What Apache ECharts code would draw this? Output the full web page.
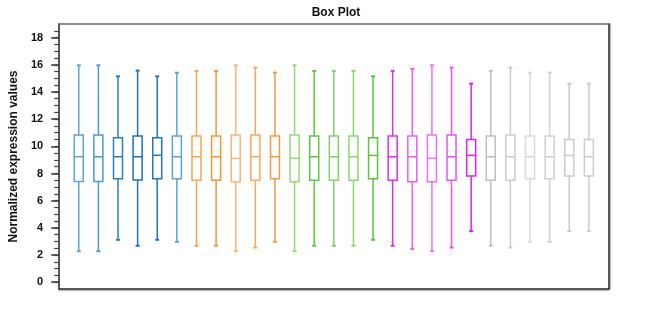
<!DOCTYPE html>
<html>
<head>
<meta charset="utf-8">
<script src="https://cdn.jsdelivr.net/npm/echarts@6/dist/echarts.min.js"></script>
<style>
  html, body { margin: 0; padding: 0; background: #ffffff; }
  #chart { width: 670px; height: 312px; }
</style>
</head>
<body>
<div id="chart"></div>
<script>
// Sample labels (not printed on the axis)
const samples = [
  'S01','S02','S03','S04','S05','S06',
  'S07','S08','S09','S10','S11',
  'S12','S13','S14','S15','S16',
  'S17','S18','S19','S20','S21',
  'S22','S23','S24','S25','S26','S27'
];

// Five-number summaries of the normalized expression values per sample
const whiskerHigh = [
  15.96, 15.96, 15.15, 15.57, 15.15, 15.42,
  15.55, 15.55, 15.96, 15.79, 15.42,
  15.96, 15.55, 15.55, 15.55, 15.15,
  15.55, 15.69, 15.96, 15.79, 14.61,
  15.55, 15.79, 15.42, 15.42, 14.61, 14.61
];
const upperQuartile = [
  10.83, 10.83, 10.63, 10.75, 10.63, 10.75,
  10.75, 10.75, 10.83, 10.83, 10.75,
  10.83, 10.75, 10.75, 10.75, 10.63,
  10.75, 10.75, 10.83, 10.83, 10.51,
  10.75, 10.83, 10.75, 10.75, 10.51, 10.51
];
const median = [
  9.23, 9.23, 9.23, 9.23, 9.34, 9.23,
  9.23, 9.23, 9.11, 9.23, 9.23,
  9.11, 9.23, 9.23, 9.23, 9.33,
  9.23, 9.23, 9.11, 9.23, 9.33,
  9.23, 9.23, 9.23, 9.23, 9.33, 9.23
];
const lowerQuartile = [
  7.41, 7.41, 7.62, 7.52, 7.62, 7.62,
  7.51, 7.51, 7.39, 7.51, 7.61,
  7.39, 7.51, 7.51, 7.51, 7.61,
  7.51, 7.39, 7.39, 7.51, 7.81,
  7.51, 7.51, 7.61, 7.61, 7.81, 7.81
];
const whiskerLow = [
  2.28, 2.28, 3.12, 2.68, 3.12, 2.97,
  2.68, 2.68, 2.28, 2.55, 2.97,
  2.28, 2.68, 2.68, 2.68, 3.12,
  2.68, 2.45, 2.28, 2.55, 3.76,
  2.68, 2.55, 2.97, 2.97, 3.76, 3.76
];

// Y axis tick positions
const majorTicks = [0, 2, 4, 6, 8, 10, 12, 14, 16, 18];
const minorTicks = [
  0, 0.5, 1, 1.5, 2, 2.5, 3, 3.5, 4, 4.5, 5, 5.5, 6, 6.5, 7, 7.5, 8, 8.5, 9, 9.5,
  10, 10.5, 11, 11.5, 12, 12.5, 13, 13.5, 14, 14.5, 15, 15.5, 16, 16.5, 17, 17.5, 18, 18.5
];

// Stroke colour of each box (five sample groups)
const boxColors = [
  '#5aa4d8', '#4b9ad3', '#2a7fc0', '#1a73b8', '#2178bc', '#5aa4d8',
  '#f9a550', '#f7953a', '#fbb575', '#f9a75a', '#f89a45',
  '#93da76', '#5cc63c', '#80d262', '#8ad86c', '#5ac43a',
  '#dd30ee', '#e860f3', '#ee70f6', '#e555f2', '#da20ec',
  '#c0c0c0', '#cbcbcb', '#d8d8d8', '#d0d0d0', '#cacaca', '#cccccc'
];

const boxData = samples.map((name, i) => [
  i, whiskerLow[i], lowerQuartile[i], median[i], upperQuartile[i], whiskerHigh[i]
]);

const BOX_HALF = 4.5;   // half box width, px
const CAP_HALF = 2;     // half whisker cap width, px

function renderBox(params, api) {
  const x = api.value(0);
  const pLow = api.coord([x, api.value(1)]);
  const pQ1 = api.coord([x, api.value(2)]);
  const pMed = api.coord([x, api.value(3)]);
  const pQ3 = api.coord([x, api.value(4)]);
  const pHigh = api.coord([x, api.value(5)]);
  const cx = pQ1[0];
  const color = boxColors[params.dataIndex];
  const line = { stroke: color, lineWidth: 1.5, fill: null };
  const cap = { stroke: color, lineWidth: 2 };
  return {
    type: 'group',
    children: [
      { type: 'line', shape: { x1: cx, y1: pQ3[1], x2: cx, y2: pHigh[1] }, style: line },
      { type: 'line', shape: { x1: cx, y1: pQ1[1], x2: cx, y2: pLow[1] }, style: line },
      { type: 'line', shape: { x1: cx - CAP_HALF, y1: pHigh[1], x2: cx + CAP_HALF, y2: pHigh[1] }, style: cap },
      { type: 'line', shape: { x1: cx - CAP_HALF, y1: pLow[1], x2: cx + CAP_HALF, y2: pLow[1] }, style: cap },
      {
        type: 'rect',
        shape: { x: cx - BOX_HALF, y: pQ3[1], width: BOX_HALF * 2, height: pQ1[1] - pQ3[1] },
        style: { stroke: color, lineWidth: 1.5, fill: '#ffffff' }
      },
      { type: 'line', shape: { x1: cx - BOX_HALF, y1: pMed[1], x2: cx + BOX_HALF, y2: pMed[1] }, style: line }
    ]
  };
}

const textFont = 'Liberation Sans, Arial, Helvetica, sans-serif';
const chart = echarts.init(document.getElementById('chart'), null, { renderer: 'canvas' });

chart.setOption({
  animation: false,
  backgroundColor: '#ffffff',
  title: {
    text: 'Box Plot',
    left: 331,
    top: 2,
    textAlign: 'center',
    textStyle: { fontFamily: textFont, fontSize: 12, fontWeight: 'bold', color: '#111111' }
  },
  grid: {
    left: 53.5,
    right: 61.5,
    top: 24,
    bottom: 23,
    show: false
  },
  xAxis: [
    {
      type: 'value',
      min: -1,
      max: 27,
      position: 'bottom',
      axisLine: {
        show: true, onZero: false,
        lineStyle: { color: '#222222', width: 1.5, shadowColor: '#bdbdbd', shadowOffsetY: 1.5 }
      },
      axisTick: { show: false },
      axisLabel: { show: false },
      splitLine: { show: false }
    },
    {
      type: 'value',
      min: -1,
      max: 27,
      position: 'top',
      axisLine: { show: true, onZero: false, lineStyle: { color: '#6a6a6a', width: 1.5 } },
      axisTick: { show: false },
      axisLabel: { show: false },
      splitLine: { show: false }
    }
  ],
  yAxis: [
    {
      type: 'value',
      min: -0.5,
      max: 19,
      position: 'left',
      name: 'Normalized expression values',
      nameLocation: 'middle',
      nameGap: 39,
      nameTextStyle: { fontFamily: textFont, fontSize: 12, fontWeight: 'bold', color: '#111111' },
      axisLine: { show: true, onZero: false, lineStyle: { color: '#222222', width: 1.5 } },
      axisTick: { show: true, length: 8, customValues: majorTicks, lineStyle: { color: '#333333', width: 1.5 } },
      axisLabel: {
        show: true, customValues: majorTicks, margin: 16,
        fontFamily: textFont, fontSize: 11, fontWeight: 'bold', color: '#111111'
      },
      splitLine: { show: false }
    },
    {
      type: 'value',
      min: -0.5,
      max: 19,
      position: 'left',
      offset: 0,
      axisLine: { show: false, onZero: false },
      axisTick: { show: true, length: 5, customValues: minorTicks, lineStyle: { color: '#444444', width: 1.2 } },
      axisLabel: { show: false },
      splitLine: { show: false }
    },
    {
      type: 'value',
      min: -0.5,
      max: 19,
      position: 'right',
      axisLine: {
        show: true, onZero: false,
        lineStyle: { color: '#222222', width: 1.5, shadowColor: '#bdbdbd', shadowOffsetX: 1.5 }
      },
      axisTick: { show: false },
      axisLabel: { show: false },
      splitLine: { show: false }
    }
  ],
  series: [
    {
      type: 'custom',
      name: 'Expression',
      xAxisIndex: 0,
      yAxisIndex: 0,
      renderItem: renderBox,
      encode: { x: 0, y: [1, 2, 3, 4, 5] },
      data: boxData
    }
  ]
});
</script>
</body>
</html>
